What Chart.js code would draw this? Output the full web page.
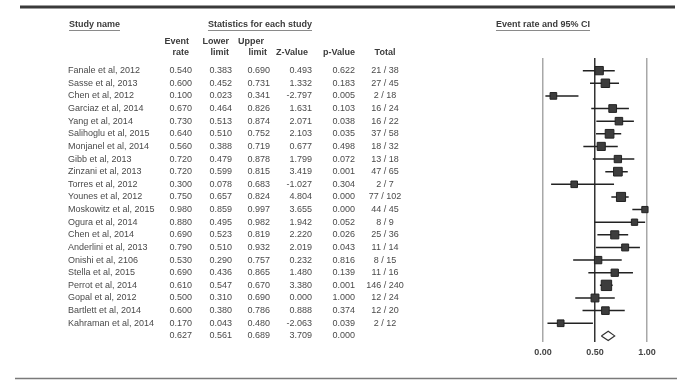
<!DOCTYPE html>
<html>
<head>
<meta charset="utf-8">
<script src="https://cdn.jsdelivr.net/npm/chart.js@4.4.1/dist/chart.umd.min.js"></script>
<style>
  html, body { margin: 0; padding: 0; background: #fff; }
  #wrap { width: 690px; height: 381px; }
</style>
</head>
<body>
<div id="wrap"><canvas id="forest" width="690" height="381"></canvas></div>
<script>
const studies = [
    "Fanale et al, 2012", "Sasse et al, 2013", "Chen et al, 2012", "Garciaz et al, 2014",
    "Yang et al, 2014", "Salihoglu et al, 2015", "Monjanel et al, 2014", "Gibb et al, 2013",
    "Zinzani et al, 2013", "Torres et al, 2012", "Younes et al, 2012", "Moskowitz et al, 2015",
    "Ogura et al, 2014", "Chen et al, 2014", "Anderlini et al, 2013", "Onishi et al, 2106",
    "Stella et al, 2015", "Perrot et al, 2014", "Gopal et al, 2012", "Bartlett et al, 2014",
    "Kahraman et al, 2014"
];
const eventRate  = [0.540, 0.600, 0.100, 0.670, 0.730, 0.640, 0.560, 0.720, 0.720, 0.300, 0.750,
                    0.980, 0.880, 0.690, 0.790, 0.530, 0.690, 0.610, 0.500, 0.600, 0.170];
const lowerLimit = [0.383, 0.452, 0.023, 0.464, 0.513, 0.510, 0.388, 0.479, 0.599, 0.078, 0.657,
                    0.859, 0.495, 0.523, 0.510, 0.290, 0.436, 0.547, 0.310, 0.380, 0.043];
const upperLimit = [0.690, 0.731, 0.341, 0.826, 0.874, 0.752, 0.719, 0.878, 0.815, 0.683, 0.824,
                    0.997, 0.982, 0.819, 0.932, 0.757, 0.865, 0.670, 0.690, 0.786, 0.480];
const zValue     = [0.493, 1.332, -2.797, 1.631, 2.071, 2.103, 0.677, 1.799, 3.419, -1.027, 4.804,
                    3.655, 1.942, 2.220, 2.019, 0.232, 1.480, 3.380, 0.000, 0.888, -2.063];
const pValue     = [0.622, 0.183, 0.005, 0.103, 0.038, 0.035, 0.498, 0.072, 0.001, 0.304, 0.000,
                    0.000, 0.052, 0.026, 0.043, 0.816, 0.139, 0.001, 1.000, 0.374, 0.039];
const events     = [21, 27, 2, 16, 16, 37, 18, 13, 47, 2, 77, 44, 8, 25, 11, 8, 11, 146, 12, 12, 2];
const totals     = [38, 45, 18, 24, 22, 58, 32, 18, 65, 7, 102, 45, 9, 36, 14, 15, 16, 240, 24, 20, 12];

// pooled result (last row)
const summaryRate = 0.627;
const summaryLower = 0.561;
const summaryUpper = 0.689;
const summaryZ = 3.709;
const summaryP = 0.000;

const axisTicks = [0, 0.5, 1];

const FONT = "'Liberation Sans', Arial, sans-serif";
const summaryRow = studies.length;

// square size grows with study weight
function squareRadius(i) {
    const w = totals[i] * eventRate[i] * (1 - eventRate[i]);
    const side = 5.5 + 1.2 * Math.log(1 + w);
    return side / Math.SQRT2;
}

let ciData = [];
let pointData = [];
studies.forEach((s, i) => {
    ciData.push({x: lowerLimit[i], y: i});
    ciData.push({x: upperLimit[i], y: i});
    ciData.push({x: eventRate[i], y: null});
    pointData.push({x: eventRate[i], y: i});
});

const dh = 0.36;
const diamondData = [
    {x: summaryLower, y: summaryRow},
    {x: summaryRate, y: summaryRow - dh},
    {x: summaryUpper, y: summaryRow},
    {x: summaryRate, y: summaryRow + dh},
    {x: summaryLower, y: summaryRow}
];

function fmt(v) {
    return v.toFixed(3);
}

function headerText(ctx, text, x, y, align, underline) {
    ctx.textAlign = align;
    ctx.fillText(text, x, y);
    if (underline) {
        const w = ctx.measureText(text).width;
        let x0 = align === "center" ? x - w / 2 : x;
        ctx.save();
        ctx.strokeStyle = "#8a8a8a";
        ctx.lineWidth = 1;
        ctx.beginPath();
        ctx.moveTo(x0, y + 5.5);
        ctx.lineTo(x0 + w, y + 5.5);
        ctx.stroke();
        ctx.restore();
    }
}

const tablePlugin = {
    id: "table",
    afterDraw(chart) {
        const ctx = chart.ctx;
        const yScale = chart.scales.y;
        ctx.save();

        // rules
        ctx.strokeStyle = "#3a3a3a";
        ctx.lineWidth = 3;
        ctx.beginPath();
        ctx.moveTo(20, 7);
        ctx.lineTo(675, 7);
        ctx.stroke();
        ctx.strokeStyle = "#7a7a7a";
        ctx.lineWidth = 1.5;
        ctx.beginPath();
        ctx.moveTo(15, 378.5);
        ctx.lineTo(677, 378.5);
        ctx.stroke();

        // headers
        ctx.fillStyle = "#3c3c3c";
        ctx.textBaseline = "middle";
        ctx.font = "bold 9px " + FONT;
        headerText(ctx, "Study name", 69, 25, "left", true);
        headerText(ctx, "Statistics for each study", 260, 25, "center", true);
        headerText(ctx, "Event rate and 95% CI", 543, 25, "center", true);

        headerText(ctx, "Event", 189, 42, "right");
        headerText(ctx, "rate", 189, 53, "right");
        headerText(ctx, "Lower", 229, 42, "right");
        headerText(ctx, "limit", 229, 53, "right");
        headerText(ctx, "Upper", 264, 42, "right");
        headerText(ctx, "limit", 267, 53, "right");
        headerText(ctx, "Z-Value", 308, 53, "right");
        headerText(ctx, "p-Value", 355, 53, "right");
        headerText(ctx, "Total", 385, 53, "center");

        // rows
        ctx.font = "9px " + FONT;
        ctx.fillStyle = "#4a4a4a";
        studies.forEach((s, i) => {
            const y = yScale.getPixelForValue(i);
            ctx.textAlign = "left";
            ctx.fillText(s, 68, y);
            ctx.textAlign = "right";
            ctx.fillText(fmt(eventRate[i]), 192, y);
            ctx.fillText(fmt(lowerLimit[i]), 232, y);
            ctx.fillText(fmt(upperLimit[i]), 270, y);
            ctx.fillText(fmt(zValue[i]), 312, y);
            ctx.fillText(fmt(pValue[i]), 355, y);
            ctx.textAlign = "center";
            ctx.fillText(events[i] + " / " + totals[i], 385, y);
        });
        const ys = yScale.getPixelForValue(summaryRow);
        ctx.textAlign = "right";
        ctx.fillText(fmt(summaryRate), 192, ys);
        ctx.fillText(fmt(summaryLower), 232, ys);
        ctx.fillText(fmt(summaryUpper), 270, ys);
        ctx.fillText(fmt(summaryZ), 312, ys);
        ctx.fillText(fmt(summaryP), 355, ys);
        ctx.restore();
    }
};

const config = {
    type: "scatter",
    data: {
        datasets: [
            {
                data: pointData,
                pointStyle: "rect",
                pointRadius: studies.map((s, i) => squareRadius(i)),
                backgroundColor: "#3d3d3d",
                borderColor: "#222",
                borderWidth: 1,
                clip: false,
                order: 0
            },
            {
                type: "line",
                data: ciData,
                showLine: true,
                spanGaps: false,
                pointRadius: 0,
                borderColor: "#222",
                borderWidth: 1.5,
                clip: false,
                order: 1
            },
            {
                type: "line",
                data: diamondData,
                showLine: true,
                pointRadius: 0,
                tension: 0,
                borderColor: "#333",
                borderWidth: 1.2,
                clip: false,
                order: 2
            }
        ]
    },
    options: {
        responsive: false,
        animation: false,
        layout: {
            padding: {left: 543, right: 43, top: 58, bottom: 18}
        },
        plugins: {
            legend: {display: false},
            tooltip: {enabled: false}
        },
        scales: {
            x: {
                type: "linear",
                min: 0,
                max: 1,
                afterBuildTicks: axis => {
                    axis.ticks = axisTicks.map(v => ({value: v}));
                },
                ticks: {
                    callback: v => Number(v).toFixed(2),
                    font: {family: FONT, size: 9, weight: "bold"},
                    color: "#444",
                    padding: 5,
                    maxRotation: 0
                },
                grid: {
                    color: c => (c.tick && c.tick.value === 0.5) ? "#333" : "#a8a8a8",
                    lineWidth: 1.5,
                    drawTicks: false
                },
                border: {display: false}
            },
            y: {
                type: "linear",
                reverse: true,
                min: -1,
                max: 21.5,
                display: false
            }
        }
    },
    plugins: [tablePlugin]
};

const forestChart = new Chart(document.getElementById("forest"), config);
</script>
</body>
</html>
